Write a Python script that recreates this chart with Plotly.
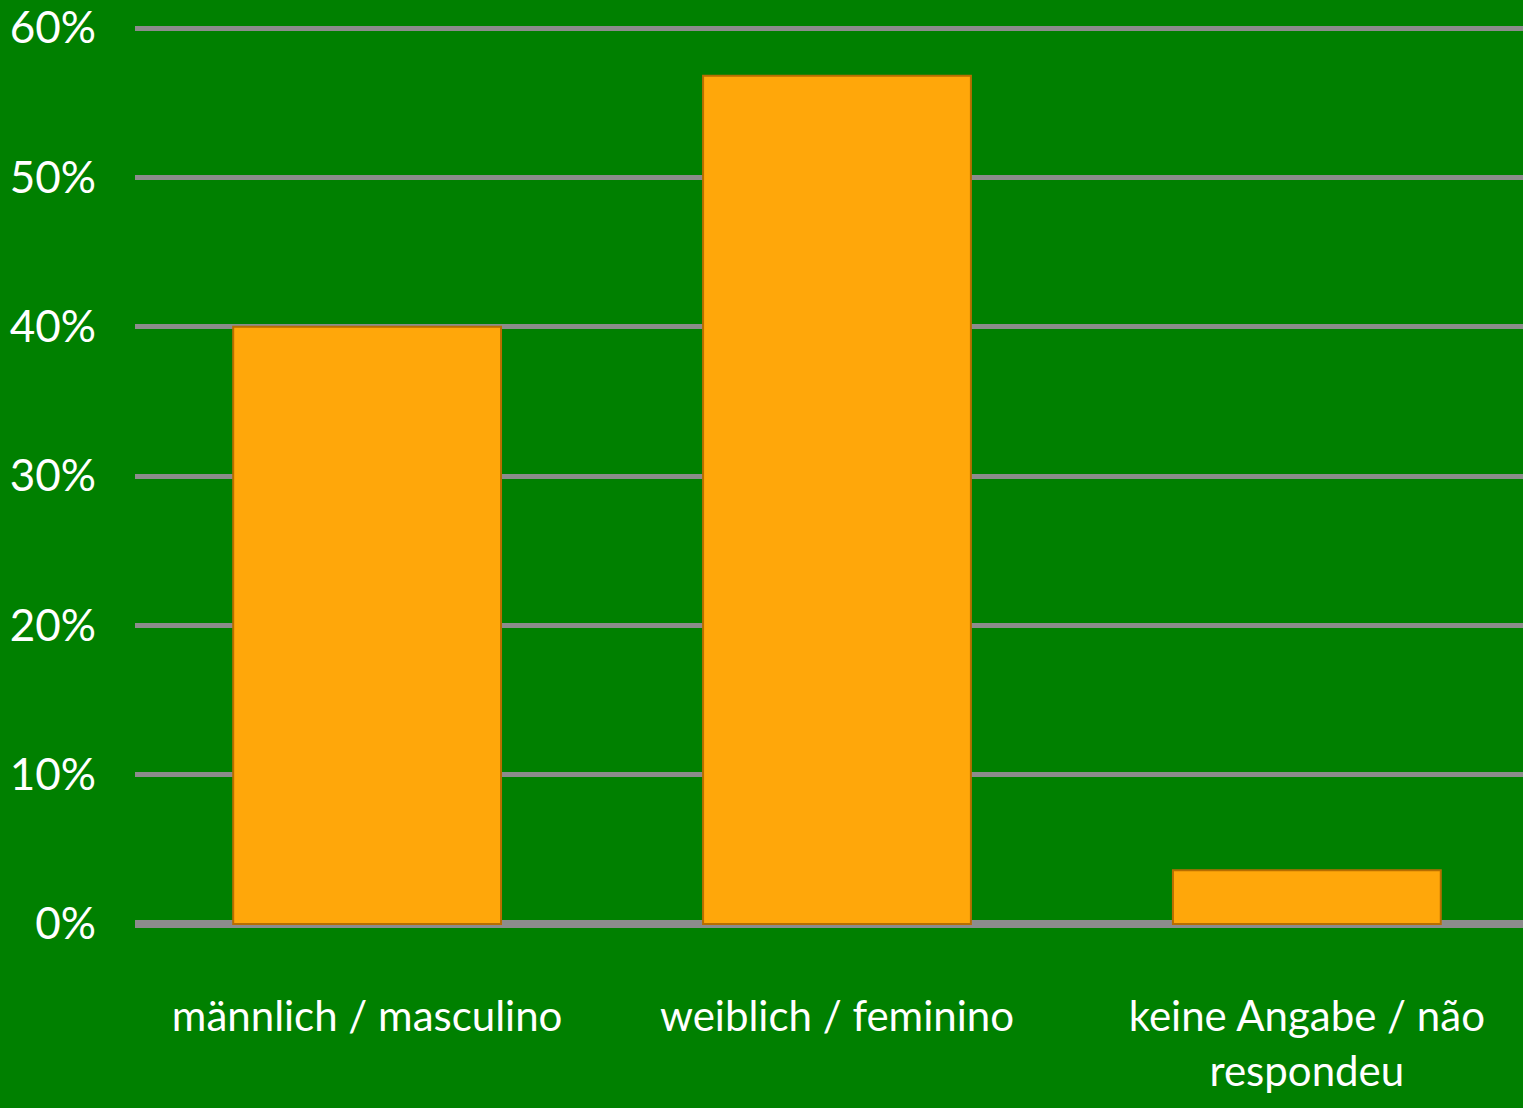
import plotly.graph_objects as go

categories = ["männlich / masculino", "weiblich / feminino", "keine Angabe / não<br>respondeu"]
shares = [0.40, 0.568, 0.036]
tick_vals = [0, 0.1, 0.2, 0.3, 0.4, 0.5, 0.6]
tick_text = ["0%", "10%", "20%", "30%", "40%", "50%", "60%"]

BG = "#008000"
GRID = "#8C8C8C"
FONT = "Lato"

fig = go.Figure()

fig.add_trace(go.Bar(
    x=[0, 1, 2],
    y=shares,
    width=0.57,
    marker=dict(color="#FFA70A", line=dict(color="#B86E00", width=2)),
    hoverinfo="skip",
    showlegend=False,
))

fig.update_layout(
    width=1523,
    height=1108,
    paper_bgcolor=BG,
    plot_bgcolor=BG,
    margin=dict(l=135, r=0, t=20, b=176),
    font=dict(family=FONT, color="white", size=42),
    xaxis=dict(
        tickmode="array",
        tickvals=[0, 1, 2],
        ticktext=categories,
        range=[-0.494, 2.46],
        showgrid=False,
        zeroline=False,
        showline=False,
        ticks="",
        ticklabelstandoff=56,
        tickfont=dict(family=FONT, size=42, color="white"),
    ),
    yaxis=dict(
        tickmode="array",
        tickvals=tick_vals,
        ticktext=tick_text,
        range=[-0.0054, 0.6054],
        showgrid=True,
        gridcolor=GRID,
        gridwidth=5,
        zeroline=True,
        zerolinecolor=GRID,
        zerolinewidth=8,
        showline=False,
        ticks="",
        ticklabelstandoff=38,
        tickfont=dict(family=FONT, size=44, color="white"),
    ),
)

# page body margin would otherwise push the figure off by 8px
fig.write_html(
    "out.html",
    config={"displayModeBar": False},
    post_script="document.body.style.margin='0';",
)
